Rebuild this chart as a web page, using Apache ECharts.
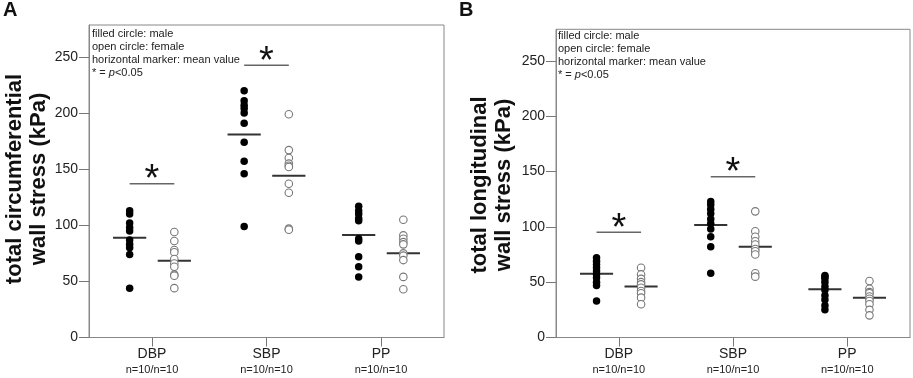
<!DOCTYPE html>
<html>
<head>
<meta charset="utf-8">
<script src="https://cdn.jsdelivr.net/npm/echarts@6/dist/echarts.min.js"></script>
<style>
html, body { margin: 0; padding: 0; background: #fff; }
#chart { width: 913px; height: 378px; }
</style>
</head>
<body>
<div id="chart"></div>
<script>
// categories and tick labels
var categories = ['DBP', 'SBP', 'PP'];
var nLabels = ['n=10/n=10', 'n=10/n=10', 'n=10/n=10'];
var yTicks = [0, 50, 100, 150, 200, 250];

// panel A: total circumferential wall stress (kPa), one list per category
var circMale = [
    [113, 110, 102, 98, 95, 87, 83, 80, 74, 44],
    [220, 211, 207, 204, 200, 191, 174, 157, 146, 99],
    [117, 113, 110, 106, 104, 88, 86, 72, 63, 54]
];
var circFemale = [
    [94, 86, 78, 76, 70, 66, 63, 56, 55, 44],
    [199, 167, 160, 155, 153, 152, 137, 129, 97, 96],
    [105, 91, 88, 85, 83, 75, 73, 69, 54, 43]
];
var circMaleMean = [89, 181, 91.4];
var circFemaleMean = [68.5, 144.2, 75];
var circSig = [[1, 137], [2, 242.6]];

// panel B: total longitudinal wall stress (kPa)
var longMale = [
    [72, 69, 66, 63, 60, 57, 54, 50, 47, 33],
    [123, 120, 116, 112, 107, 103, 98, 91, 82, 58],
    [56, 55, 53, 50, 46, 43, 38, 34, 29, 25]
];
var longFemale = [
    [63, 57, 53, 50, 48, 45, 42, 40, 36, 30],
    [114, 96, 91, 87, 84, 80, 78, 75, 58, 55],
    [51, 44, 41, 40, 37, 35, 33, 30, 25, 20]
];
var longMaleMean = [57.5, 101.7, 43.7];
var longFemaleMean = [46, 82, 36];
var longSig = [[1, 95.1], [2, 145.3]];

var FONT = 'Liberation Sans, Arial, sans-serif';
var OFF = 0.195;   // horizontal offset of male/female columns
var HALF = 0.145;  // half width of the mean marker

function pts(groups, sign) {
    var out = [];
    groups.forEach(function (vals, i) {
        vals.forEach(function (v) { out.push([i + 1 + sign * OFF, v]); });
    });
    return out;
}
function means(arr, sign) {
    return arr.map(function (v, i) { return [i + 1 + sign * OFF, v]; });
}

function meanLine(params, api) {
    var a = api.coord([api.value(0) - HALF, api.value(1)]);
    var b = api.coord([api.value(0) + HALF, api.value(1)]);
    return {
        type: 'line',
        shape: { x1: a[0], y1: a[1], x2: b[0], y2: b[1] },
        style: { stroke: '#333', lineWidth: 2 }
    };
}
function sigBar(params, api) {
    var a = api.coord([api.value(0) - OFF, api.value(1)]);
    var b = api.coord([api.value(0) + OFF, api.value(1)]);
    return {
        type: 'group',
        children: [{
            type: 'line',
            shape: { x1: a[0], y1: a[1], x2: b[0], y2: b[1] },
            style: { stroke: '#666', lineWidth: 1.5 }
        }, {
            type: 'text',
            x: (a[0] + b[0]) / 2,
            y: a[1] - 3,
            style: {
                text: '*', fill: '#111', fontSize: 38, fontFamily: FONT,
                align: 'center', verticalAlign: 'middle'
            }
        }]
    };
}

function xAxisOpt(idx) {
    return {
        type: 'value', gridIndex: idx, min: 0.45, max: 3.55,
        splitLine: { show: false },
        axisLine: { show: true, lineStyle: { color: '#888' } },
        axisTick: { show: true, length: 9, customValues: [1, 2, 3], lineStyle: { color: '#777' } },
        axisLabel: {
            customValues: [1, 2, 3], margin: 8,
            formatter: function (v) {
                var i = Math.round(v) - 1;
                return '{c|' + categories[i] + '}\n{n|' + nLabels[i] + '}';
            },
            rich: {
                c: { fontSize: 14, lineHeight: 17, color: '#222', fontFamily: FONT },
                n: { fontSize: 11, lineHeight: 15, color: '#222', fontFamily: FONT }
            }
        }
    };
}
function yAxisOpt(idx) {
    return {
        type: 'value', gridIndex: idx, min: 0, max: 278.5,
        splitLine: { show: false },
        axisLine: { show: true, lineStyle: { color: '#888' } },
        axisTick: { show: true, length: 10, customValues: yTicks, lineStyle: { color: '#777' } },
        axisLabel: { customValues: yTicks, margin: 11, fontSize: 14, color: '#222', fontFamily: FONT }
    };
}

function panelSeries(idx, male, female, mMean, fMean, sig) {
    return [{
        type: 'scatter', xAxisIndex: idx, yAxisIndex: idx,
        symbol: 'circle', symbolSize: 7.5,
        itemStyle: { color: '#000', opacity: 1 },
        data: pts(male, -1)
    }, {
        type: 'scatter', xAxisIndex: idx, yAxisIndex: idx,
        symbol: 'circle', symbolSize: 7.5,
        itemStyle: { color: '#fff', borderColor: '#777', borderWidth: 1.1, opacity: 1 },
        data: pts(female, 1)
    }, {
        type: 'custom', xAxisIndex: idx, yAxisIndex: idx,
        renderItem: meanLine,
        data: means(mMean, -1).concat(means(fMean, 1))
    }, {
        type: 'custom', xAxisIndex: idx, yAxisIndex: idx,
        renderItem: sigBar,
        data: sig
    }];
}

var legendText = 'filled circle: male\nopen circle: female\nhorizontal marker: mean value\n* = {i|p}<0.05';
var legendStyle = {
    fontSize: 11, lineHeight: 13, color: '#222', fontWeight: 'normal', fontFamily: FONT,
    rich: { i: { fontStyle: 'italic', fontSize: 11, lineHeight: 13, color: '#222', fontFamily: FONT } }
};

var chart = echarts.init(document.getElementById('chart'));
var option = {
    animation: false,
    backgroundColor: '#fff',
    title: [
        { text: 'A', left: 3, top: 0, padding: 0, textStyle: { fontSize: 20, fontWeight: 'bold', color: '#111', fontFamily: FONT } },
        { text: 'B', left: 459, top: 0, padding: 0, textStyle: { fontSize: 20, fontWeight: 'bold', color: '#111', fontFamily: FONT } },
        { text: legendText, left: 92, top: 27, padding: 0, textStyle: legendStyle },
        { text: legendText, left: 558, top: 29, padding: 0, textStyle: legendStyle }
    ],
    grid: [
        { left: 89, right: 469, top: 25, bottom: 40.5, show: true, borderColor: '#888', borderWidth: 1, backgroundColor: 'transparent' },
        { left: 556, right: 3, top: 29.3, bottom: 40.5, show: true, borderColor: '#888', borderWidth: 1, backgroundColor: 'transparent' }
    ],
    xAxis: [xAxisOpt(0), xAxisOpt(1)],
    yAxis: [yAxisOpt(0), yAxisOpt(1)],
    graphic: [
        {
            type: 'text', x: 27, y: 179, rotation: Math.PI / 2,
            style: {
                text: 'total circumferential\nwall stress (kPa)', fill: '#111',
                font: 'bold 22px ' + FONT, lineHeight: 24,
                textAlign: 'center', textVerticalAlign: 'middle'
            }
        },
        {
            type: 'text', x: 492, y: 185, rotation: Math.PI / 2,
            style: {
                text: 'total longitudinal\nwall stress (kPa)', fill: '#111',
                font: 'bold 22px ' + FONT, lineHeight: 24,
                textAlign: 'center', textVerticalAlign: 'middle'
            }
        }
    ],
    series: panelSeries(0, circMale, circFemale, circMaleMean, circFemaleMean, circSig)
        .concat(panelSeries(1, longMale, longFemale, longMaleMean, longFemaleMean, longSig))
};
chart.setOption(option);
</script>
</body>
</html>
